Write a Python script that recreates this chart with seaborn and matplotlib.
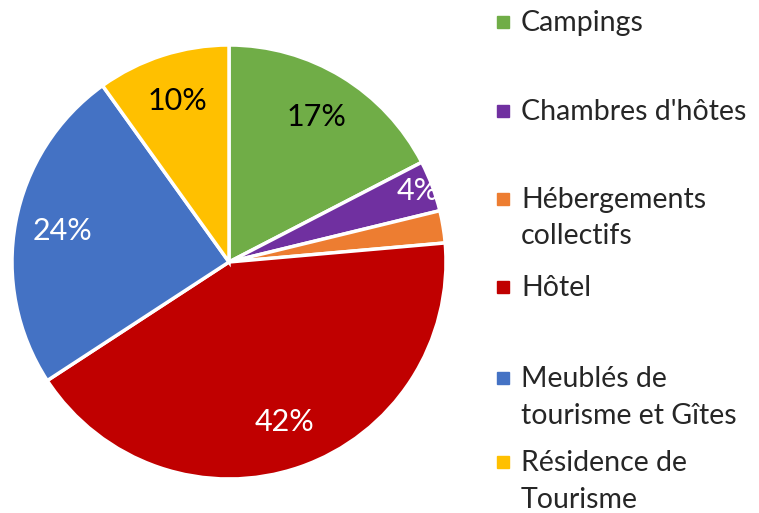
import matplotlib
matplotlib.use("Agg")
import matplotlib.pyplot as plt
from matplotlib.patches import Rectangle
import numpy as np
import seaborn as sns

# Données
categories = ['Campings', "Chambres d'hôtes", 'Hébergements\ncollectifs', 'Hôtel',
              'Meublés de\ntourisme et Gîtes', 'Résidence de\nTourisme']
parts = [17.4, 3.8, 2.4, 42.2, 24.3, 9.9]
couleurs = ['#70AD47', '#7030A0', '#ED7D31', '#C00000', '#4472C4', '#FFC000']
couleurs_texte = ['black', 'white', 'white', 'white', 'white', 'black']

sns.set_style('white')
plt.rcParams['font.family'] = ['Lato', 'DejaVu Sans']

fig = plt.figure(figsize=(7.59, 5.13), dpi=100)
ax = fig.add_axes([12 / 759, 34 / 513, 434 / 759, 434 / 513])


def etiquette(pct):
    return f'{pct:.0f}%' if pct >= 3 else ''


wedges, textes, autotextes = ax.pie(
    parts, colors=couleurs, startangle=90, counterclock=False,
    autopct=etiquette, pctdistance=0.78,
    wedgeprops=dict(edgecolor='white', linewidth=2.5),
    textprops=dict(fontsize=22))
ax.set_xlim(-1.0, 1.0)
ax.set_ylim(-1.0, 1.0)
ax.set_aspect('equal')

for t, c, p in zip(autotextes, couleurs_texte, parts):
    t.set_color(c)
    if p < 5:
        t.set_position(np.array(t.get_position()) * 0.93 / 0.78)

# Légende (entrées espacées comme dans Excel)
y_lignes = [22, 111, 199, 287, 378, 462]
for lab, col, y in zip(categories, couleurs, y_lignes):
    fig.add_artist(Rectangle((497 / 759, 1 - (y + 6) / 513), 12 / 759, 12 / 513,
                             transform=fig.transFigure, color=col))
    fig.text(521 / 759, 1 - (y - 12) / 513, lab, fontsize=20.5, va='top',
             ha='left', linespacing=1.5)

fig.savefig('out.png', dpi=100)
